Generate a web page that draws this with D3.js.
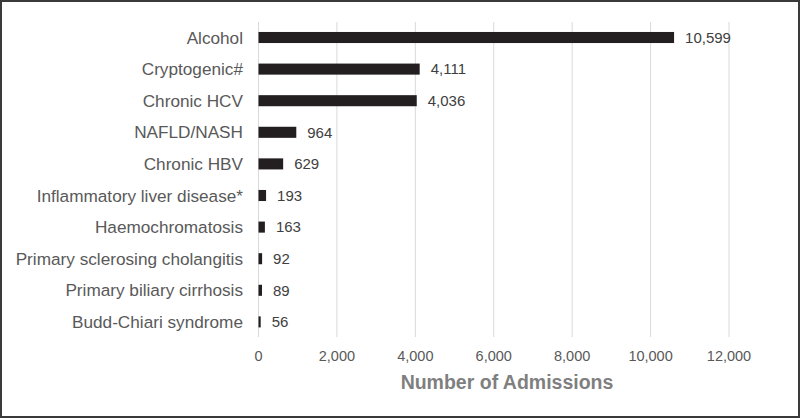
<!DOCTYPE html>
<html><head><meta charset="utf-8">
<script src="https://cdn.jsdelivr.net/npm/d3@7"></script>
<style>body{margin:0;background:#fff}svg{display:block}</style>
</head><body>
<script>
const categories = ["Alcohol","Cryptogenic#","Chronic HCV","NAFLD/NASH","Chronic HBV","Inflammatory liver disease*","Haemochromatosis","Primary sclerosing cholangitis","Primary biliary cirrhosis","Budd-Chiari syndrome"];
const values = [10599,4111,4036,964,629,193,163,92,89,56];
const xTicks = [0,2000,4000,6000,8000,10000,12000];
const xTitle = "Number of Admissions";

const W=800,H=418;
const svg=d3.select("body").append("svg").attr("width",W).attr("height",H);
svg.append("rect").attr("x",1).attr("y",1).attr("width",W-2).attr("height",H-2).attr("fill","#fff").attr("stroke","#3a3a3a").attr("stroke-width",2);

const x=d3.scaleLinear().domain([0,12000]).range([258.5,729]);
const y=d3.scaleBand().domain(categories).range([21.7,337.7]).paddingInner(0.65).paddingOuter(0.325);
const font="'Liberation Sans', Arial, Helvetica, sans-serif";

svg.append("g").selectAll("line").data(xTicks).join("line")
  .attr("x1",d=>x(d)).attr("x2",d=>x(d)).attr("y1",22).attr("y2",337)
  .attr("stroke","#d9d9d9").attr("stroke-width",1);

svg.append("g").selectAll("rect").data(values).join("rect")
  .attr("x",x(0)).attr("y",(d,i)=>y(categories[i]))
  .attr("width",d=>x(d)-x(0)).attr("height",y.bandwidth())
  .attr("fill","#231f20");

svg.append("g").selectAll("text").data(categories).join("text")
  .attr("x",243).attr("y",d=>y(d)+y.bandwidth()/2).attr("dy","0.35em")
  .attr("text-anchor","end").attr("font-family",font).attr("font-size",17.2)
  .attr("fill","#595959").text(d=>d);

svg.append("g").selectAll("text").data(values).join("text")
  .attr("x",d=>x(d)+11).attr("y",(d,i)=>y(categories[i])+y.bandwidth()/2).attr("dy","0.35em")
  .attr("font-family",font).attr("font-size",15).attr("fill","#404040")
  .text(d=>d3.format(",")(d));

svg.append("g").selectAll("text").data(xTicks).join("text")
  .attr("x",d=>x(d)).attr("y",356).attr("dy","0.35em").attr("text-anchor","middle")
  .attr("font-family",font).attr("font-size",14.5).attr("fill","#595959")
  .text(d=>d3.format(",")(d));

svg.append("text").attr("x",507).attr("y",382).attr("dy","0.35em").attr("text-anchor","middle")
  .attr("font-family",font).attr("font-size",19.5).attr("font-weight","bold").attr("fill","#7f7f7f")
  .text(xTitle);
</script>
</body></html>
